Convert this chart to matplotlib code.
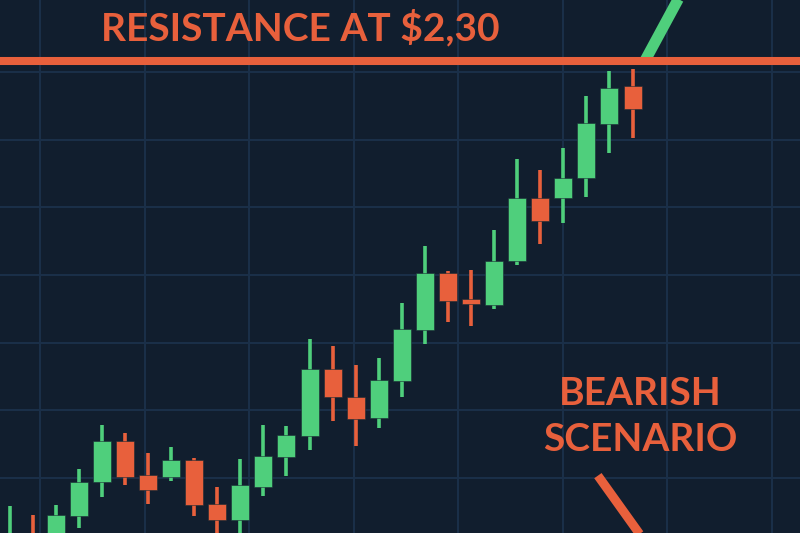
import numpy as np
import matplotlib
matplotlib.use('Agg')
import matplotlib.pyplot as plt

# Candle data (price in $), one entry per session
opens = [1.560, 1.590, 1.582, 1.6253, 1.6757, 1.7364, 1.6860, 1.6831, 1.7083, 1.6431,
         1.6194, 1.6683, 1.7127, 1.7438, 1.8431, 1.8016, 1.7705, 1.8254, 1.9009, 1.9854,
         1.9469, 1.9380, 2.0032, 2.0966, 2.0966, 2.1262, 2.2062, 2.2625]
highs = [1.640, 1.627, 1.642, 1.6949, 1.7601, 1.7483, 1.7187, 1.7275, 1.7112, 1.6683,
         1.7098, 1.7601, 1.7587, 1.8876, 1.8772, 1.8491, 1.8594, 1.9410, 2.0254, 1.9884,
         1.9899, 2.0491, 2.1544, 2.1381, 2.1707, 2.2477, 2.2848, 2.2877]
lows = [1.545, 1.553, 1.567, 1.6075, 1.6534, 1.6712, 1.6431, 1.6772, 1.6253, 1.580,
        1.585, 1.6549, 1.6846, 1.7231, 1.7661, 1.7290, 1.7557, 1.8016, 1.8802, 1.9128,
        1.9069, 1.9321, 1.9973, 2.0284, 2.0595, 2.0980, 2.1633, 2.1855]
closes = [1.593, 1.567, 1.627, 1.6757, 1.7364, 1.6831, 1.6638, 1.7083, 1.6416, 1.6194,
          1.6712, 1.7142, 1.7453, 1.8431, 1.8016, 1.7690, 1.8268, 1.9024, 1.9854, 1.9439,
          1.9395, 2.0032, 2.0966, 2.0625, 2.1262, 2.2077, 2.2596, 2.2285]

resistance = 2.30
breakout_x = [27.54, 29.2]
breakout_y = [2.30, 2.405]
bearish_x = [25.5, 27.8]
bearish_y = [1.685, 1.575]

BG = '#111e2e'
GRID = '#1b3049'
GREEN = '#4fcf7c'
RED = '#e8603c'

fig = plt.figure(figsize=(8, 5.33), dpi=100)
fig.patch.set_facecolor(BG)
ax = fig.add_axes([0, 0, 1, 1])
ax.set_facecolor(BG)

idx = np.arange(len(opens))
o = np.array(opens)
c = np.array(closes)
up = c >= o
colors = np.where(up, GREEN, RED)

# wicks and bodies
ax.vlines(idx, lows, highs, color=colors, linewidth=2.6, zorder=3)
ax.bar(idx, np.abs(c - o), bottom=np.minimum(o, c), width=0.78,
       color=colors, edgecolor='#1a2a33', linewidth=0.4, zorder=4)

# breakout line above resistance and bearish line
ax.plot(breakout_x, breakout_y, color=GREEN, linewidth=8, solid_capstyle='butt', zorder=5)
ax.axhline(resistance, color=RED, linewidth=5.8, zorder=6)
ax.plot(bearish_x, bearish_y, color=RED, linewidth=6.5, solid_capstyle='butt', zorder=5)

ax.text(12.6, 2.330, 'RESISTANCE AT $2,30', color=RED, fontsize=28,
        fontweight='bold', family='Lato', ha='center', va='baseline', zorder=7)
ax.text(27.33, 1.790, 'BEARISH', color=RED, fontsize=28,
        fontweight='bold', family='Lato', ha='center', va='baseline', zorder=7)
ax.text(27.33, 1.7216, 'SCENARIO', color=RED, fontsize=28,
        fontweight='bold', family='Lato', ha='center', va='baseline', zorder=7)

ax.set_xticks(1.32 + 4.53 * np.arange(8))
ax.set_yticks(np.arange(2.2833, 1.55, -0.1003))
ax.set_xlim(-0.416, 34.26)
ax.set_ylim(1.60, 2.39)
ax.grid(True, color=GRID, linewidth=1.4, zorder=0)
ax.set_axisbelow(True)
ax.tick_params(length=0, labelbottom=False, labelleft=False)
for s in ax.spines.values():
    s.set_visible(False)

fig.savefig('out.png', dpi=100, facecolor=BG)
